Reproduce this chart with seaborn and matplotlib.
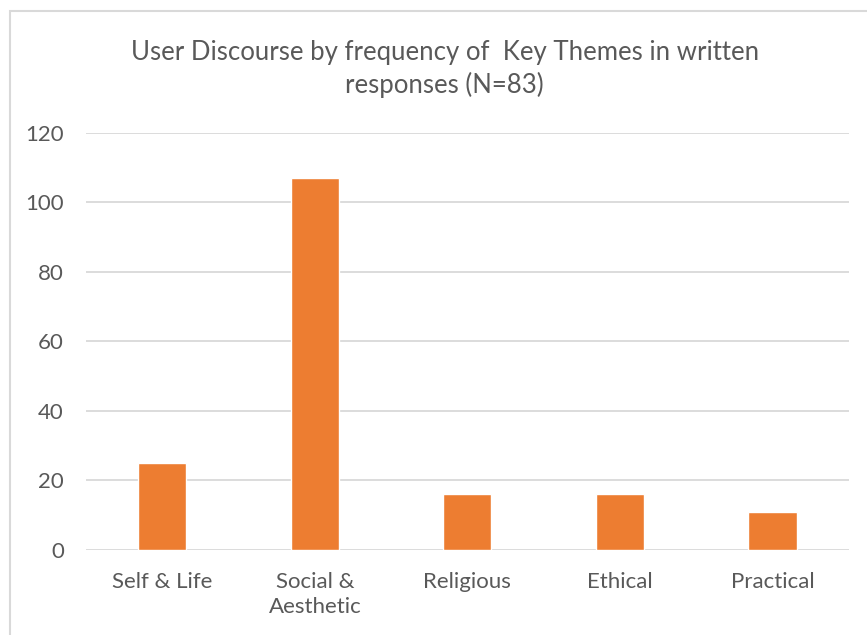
import matplotlib
matplotlib.use("Agg")
import matplotlib.pyplot as plt
from matplotlib.patches import Rectangle
import seaborn as sns
import pandas as pd

categories = ["Self & Life", "Social &\nAesthetic", "Religious", "Ethical", "Practical"]
frequencies = [25, 107, 16, 16, 11]
y_ticks = [0, 20, 40, 60, 80, 100, 120]

sns.set_theme(style="white")
plt.rcParams["font.family"] = ["Lato", "DejaVu Sans"]

text_color = "#595959"
grid_color = "#D9D9D9"
bar_color = "#ED7D31"

df = pd.DataFrame({"theme": categories, "count": frequencies})

fig = plt.figure(figsize=(8.67, 6.35), dpi=100)
fig.patch.set_facecolor("white")
ax = fig.add_axes([0.0992, 0.1339, 0.8798, 0.6567])

sns.barplot(data=df, x="theme", y="count", color=bar_color, saturation=1,
            width=0.315, ax=ax, zorder=3)

ax.set_ylim(0, 120)
ax.set_xlim(-0.5, len(categories) - 0.5)
ax.set_yticks(y_ticks)
ax.yaxis.grid(True, color=grid_color, linewidth=1.3, zorder=0)
ax.xaxis.grid(False)
for s in ax.spines.values():
    s.set_visible(False)
ax.tick_params(axis="both", length=0, labelsize=16, colors=text_color)
ax.tick_params(axis="x", pad=15.5)
ax.tick_params(axis="y", pad=16)
ax.set_xlabel("")
ax.set_ylabel("")
for lbl in ax.get_xticklabels():
    lbl.set_linespacing(1.35)

fig.text(0.513, 0.892, "User Discourse by frequency of  Key Themes in written\nresponses (N=83)",
         ha="center", va="center", fontsize=18.5, color=text_color, linespacing=1.32)

# chart-area border
fig.patches.append(Rectangle((10 / 867, -0.05), 1.0, 1 - 11 / 635 + 0.05,
                             transform=fig.transFigure, fill=False,
                             edgecolor=grid_color, linewidth=1.5))

fig.savefig("out.png", dpi=100, facecolor="white")
